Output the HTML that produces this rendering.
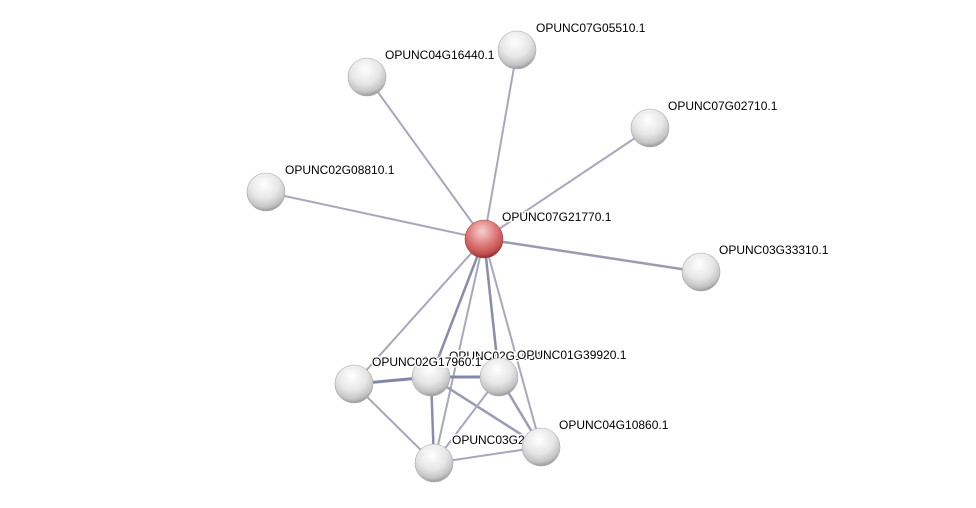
<!DOCTYPE html>
<html><head><style>body{margin:0;background:#fff}svg{display:block}</style></head><body>
<svg width="976" height="508" xmlns="http://www.w3.org/2000/svg">
<defs>
<radialGradient id="g" cx="0.45" cy="0.3" r="0.7"><stop offset="0" stop-color="#fff"/><stop offset="0.55" stop-color="#e6e6e6"/><stop offset="0.85" stop-color="#c4c4c4"/><stop offset="1" stop-color="#9a9a9a"/></radialGradient>
<radialGradient id="r" cx="0.45" cy="0.3" r="0.7"><stop offset="0" stop-color="#f8d0d0"/><stop offset="0.55" stop-color="#dd7676"/><stop offset="0.85" stop-color="#c05050"/><stop offset="1" stop-color="#8e3030"/></radialGradient>
</defs>
<g stroke="#a7a8bb" stroke-width="2" fill="none">
<line x1="484" y1="239" x2="367" y2="77"/><line x1="484" y1="239" x2="517" y2="50"/>
<line x1="484" y1="239" x2="650" y2="128"/><line x1="484" y1="239" x2="266" y2="192"/>
<line x1="484" y1="239" x2="701" y2="272" stroke="#9a9bb0" stroke-width="2.5"/>
<line x1="484" y1="239" x2="354" y2="384"/><line x1="484" y1="239" x2="431" y2="377" stroke="#8a8ca8" stroke-width="2.5"/>
<line x1="484" y1="239" x2="499" y2="377" stroke="#8a8ca8" stroke-width="2.5"/><line x1="484" y1="239" x2="434" y2="463"/>
<line x1="484" y1="239" x2="541" y2="447"/>
<line x1="354" y1="384" x2="431" y2="377" stroke="#8088a8" stroke-width="3"/>
<line x1="431" y1="377" x2="499" y2="377" stroke="#8088a8" stroke-width="3"/>
<line x1="354" y1="384" x2="434" y2="463"/><line x1="431" y1="377" x2="434" y2="463" stroke="#8a8ca8" stroke-width="2.5"/>
<line x1="431" y1="377" x2="541" y2="447" stroke="#9a9bb5" stroke-width="2.5"/><line x1="499" y1="377" x2="434" y2="463"/>
<line x1="499" y1="377" x2="541" y2="447" stroke="#9a9bb5" stroke-width="2.5"/><line x1="434" y1="463" x2="541" y2="447"/>
</g>
<g stroke="#aaa" stroke-width="0.6">
<circle cx="367" cy="77" r="19" fill="url(#g)"/><circle cx="517" cy="50" r="19" fill="url(#g)"/>
<circle cx="650" cy="128" r="19" fill="url(#g)"/><circle cx="266" cy="192" r="19" fill="url(#g)"/>
<circle cx="701" cy="272" r="19" fill="url(#g)"/><circle cx="354" cy="384" r="19" fill="url(#g)"/>
<circle cx="431" cy="377" r="19" fill="url(#g)"/>
<circle cx="434" cy="463" r="19" fill="url(#g)"/>
<circle cx="484" cy="239" r="19" fill="url(#r)" stroke="#944"/>
</g>
<g font-family="Liberation Sans, sans-serif" font-size="12" fill="#000" stroke="#fff" stroke-width="3" paint-order="stroke">
<text x="449" y="360">OPUNC02G15340</text>
<text x="452" y="444">OPUNC03G21930</text>
</g>
<g stroke="#aaa" stroke-width="0.6">
<circle cx="499" cy="377" r="19" fill="url(#g)"/><circle cx="541" cy="447" r="19" fill="url(#g)"/>
</g>
<g font-family="Liberation Sans, sans-serif" font-size="12" fill="#000" stroke="#fff" stroke-width="3" paint-order="stroke">
<text x="385" y="59">OPUNC04G16440.1</text><text x="536" y="32">OPUNC07G05510.1</text>
<text x="668" y="110">OPUNC07G02710.1</text><text x="285" y="174">OPUNC02G08810.1</text>
<text x="719" y="254">OPUNC03G33310.1</text><text x="502" y="221">OPUNC07G21770.1</text>
<text x="372" y="366">OPUNC02G17960.1</text>
<text x="517" y="359">OPUNC01G39920.1</text><text x="559" y="429">OPUNC04G10860.1</text>
</g>
</svg>
</body></html>
